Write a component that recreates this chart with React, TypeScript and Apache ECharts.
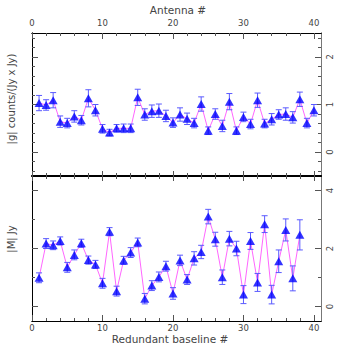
import React, { useEffect, useRef } from "react";
import * as echarts from "echarts";

const antennaIdx = [1,2,3,4,5,6,7,8,9,10,11,12,13,14,15,16,17,18,19,20,21,22,23,24,25,26,27,28,29,30,31,32,33,34,35,36,37,38,39,40];
const gainAmp = [1.03,0.99,1.09,0.64,0.61,0.75,0.67,1.13,0.88,0.49,0.41,0.50,0.50,0.50,1.15,0.79,0.86,0.87,0.76,0.62,0.79,0.70,0.61,1.01,0.45,0.80,0.55,1.06,0.45,0.74,0.59,1.09,0.60,0.69,0.79,0.80,0.73,1.11,0.61,0.88];
const gainErr = [0.16,0.11,0.16,0.12,0.10,0.12,0.10,0.18,0.12,0.09,0.07,0.08,0.09,0.09,0.17,0.12,0.13,0.14,0.12,0.10,0.14,0.12,0.10,0.15,0.08,0.11,0.12,0.17,0.08,0.10,0.10,0.15,0.09,0.12,0.10,0.13,0.12,0.15,0.10,0.12];

const baselineIdx = [1,2,3,4,5,6,7,8,9,10,11,12,13,14,15,16,17,18,19,20,21,22,23,24,25,26,27,28,29,30,31,32,33,34,35,36,37,38];
const modelAmp = [0.99,2.17,2.11,2.26,1.35,1.78,2.18,1.60,1.45,0.80,2.58,0.53,1.59,1.86,2.21,0.27,0.72,1.02,1.39,0.45,1.59,0.93,1.66,1.88,3.10,2.32,1.01,2.34,2.00,0.41,2.26,0.83,2.84,0.41,1.56,2.64,0.97,2.47];
const modelErr = [0.17,0.17,0.15,0.14,0.17,0.17,0.14,0.14,0.14,0.17,0.14,0.17,0.14,0.17,0.15,0.18,0.17,0.17,0.17,0.20,0.18,0.17,0.23,0.23,0.25,0.24,0.25,0.25,0.25,0.31,0.29,0.31,0.29,0.32,0.39,0.38,0.43,0.52];

const xMajor = [0, 10, 20, 30, 40];
const xMinor = [2,4,6,8,12,14,16,18,22,24,26,28,32,34,36,38];
const gMajor = [0, 1, 2];
const gMinor = [-0.4,-0.2,0.2,0.4,0.6,0.8,1.2,1.4,1.6,1.8,2.2,2.4];
const mMajor = [0, 2, 4];
const mMinor = [1, 3];

const FONT = "DejaVu Sans";
const TXT = "#444";

export default function App() {
  const ref = useRef<HTMLDivElement>(null);
  useEffect(() => {
    const chart = echarts.init(ref.current!, null, { renderer: "svg" });

    const xAx = (grid: number, pos: string, ticks: number[], len: number, labels: number[] | null, lineW: number, margin = 4) => ({
      type: "value", gridIndex: grid, position: pos, min: 0, max: 41,
      axisLine: { show: true, onZero: false, lineStyle: { color: "#000", width: lineW } },
      axisTick: { show: true, inside: true, length: len, customValues: ticks, lineStyle: { color: "#555", width: 1 } },
      axisLabel: labels ? { show: true, customValues: labels, color: TXT, fontSize: 8.5, fontFamily: FONT, margin } : { show: false },
      splitLine: { show: false },
    });
    const yAx = (grid: number, pos: string, min: number, max: number, ticks: number[], len: number, labels: number[] | null, lineColor: string) => ({
      type: "value", gridIndex: grid, position: pos, min, max,
      axisLine: { show: true, onZero: false, lineStyle: { color: lineColor, width: 1 } },
      axisTick: { show: true, inside: true, length: len, customValues: ticks, lineStyle: { color: "#555", width: 1 } },
      axisLabel: labels ? { show: true, customValues: labels, color: TXT, fontSize: 8.5, fontFamily: FONT, rotate: 90, margin: 4 } : { show: false },
      splitLine: { show: false },
    });

    const errSeries = (xi: number, yi: number, xs: number[], ys: number[], es: number[]) => ({
      type: "custom",
      xAxisIndex: xi, yAxisIndex: yi,
      data: xs.map((x, i) => [x, ys[i] - es[i], ys[i] + es[i]]),
      z: 3,
      renderItem: (params: any, api: any) => {
        const lo = api.coord([api.value(0), api.value(1)]);
        const hi = api.coord([api.value(0), api.value(2)]);
        const w = 3;
        const st = { stroke: "#5a5aff", lineWidth: 1 };
        return {
          type: "group",
          children: [
            { type: "line", shape: { x1: lo[0], y1: lo[1], x2: hi[0], y2: hi[1] }, style: st },
            { type: "line", shape: { x1: lo[0] - w, y1: lo[1], x2: lo[0] + w, y2: lo[1] }, style: st },
            { type: "line", shape: { x1: hi[0] - w, y1: hi[1], x2: hi[0] + w, y2: hi[1] }, style: st },
          ],
        };
      },
    });

    const lineSeries = (xi: number, yi: number, xs: number[], ys: number[]) => ({
      type: "line", xAxisIndex: xi, yAxisIndex: yi,
      data: xs.map((x, i) => [x, ys[i]]),
      showSymbol: false, symbol: "none",
      lineStyle: { color: "#ff66ff", width: 1 }, z: 2,
    });
    const markSeries = (xi: number, yi: number, xs: number[], ys: number[]) => ({
      type: "scatter", xAxisIndex: xi, yAxisIndex: yi,
      data: xs.map((x, i) => [x, ys[i]]),
      symbol: "triangle", symbolSize: [9, 8],
      itemStyle: { color: "#0000ff" }, z: 4,
    });

    chart.setOption({
      animation: false,
      backgroundColor: "#fff",
      grid: [
        { left: 32, top: 33, width: 289, height: 143 },
        { left: 32, top: 176, width: 289, height: 145 },
      ],
      xAxis: [
        xAx(0, "top", xMajor, 6, xMajor, 1, 6),
        xAx(1, "bottom", xMajor, 6, xMajor, 1, 2),
        xAx(0, "top", xMinor, 3, null, 1),
        xAx(0, "bottom", xMajor, 5, null, 1.5),
        xAx(0, "bottom", xMinor, 3, null, 1.5),
        xAx(1, "top", xMajor, 5, null, 1.5),
        xAx(1, "top", xMinor, 3, null, 1.5),
        xAx(1, "bottom", xMinor, 3, null, 1),
      ],
      yAxis: [
        yAx(0, "right", -0.5, 2.5, gMajor, 6, gMajor, "#777"),
        yAx(1, "right", -0.5, 4.5, mMajor, 6, mMajor, "#777"),
        yAx(0, "right", -0.5, 2.5, gMinor, 3, null, "#777"),
        yAx(0, "left", -0.5, 2.5, gMajor, 6, null, "#000"),
        yAx(0, "left", -0.5, 2.5, gMinor, 3, null, "#000"),
        yAx(1, "right", -0.5, 4.5, mMinor, 3, null, "#777"),
        yAx(1, "left", -0.5, 4.5, mMajor, 6, null, "#000"),
        yAx(1, "left", -0.5, 4.5, mMinor, 3, null, "#000"),
      ],
      series: [
        lineSeries(0, 0, antennaIdx, gainAmp),
        errSeries(0, 0, antennaIdx, gainAmp, gainErr),
        markSeries(0, 0, antennaIdx, gainAmp),
        lineSeries(1, 1, baselineIdx, modelAmp),
        errSeries(1, 1, baselineIdx, modelAmp, modelErr),
        markSeries(1, 1, baselineIdx, modelAmp),
      ],
      graphic: [
        { type: "text", x: 178, y: 10, style: { text: "Antenna #", fill: TXT, font: `10.5px ${FONT}`, textAlign: "center", textVerticalAlign: "middle" } },
        { type: "text", x: 170, y: 339, style: { text: "Redundant baseline #", fill: TXT, font: `10.5px ${FONT}`, textAlign: "center", textVerticalAlign: "middle" } },
        { type: "text", x: 11, y: 99, rotation: Math.PI / 2, style: { text: "|g| counts/(Jy x Jy)", fill: TXT, font: `10px ${FONT}`, textAlign: "center", textVerticalAlign: "middle" } },
        { type: "text", x: 11, y: 239, rotation: Math.PI / 2, style: { text: "|M| Jy", fill: TXT, font: `10px ${FONT}`, textAlign: "center", textVerticalAlign: "middle" } },
      ],
    });
    return () => chart.dispose();
  }, []);
  return <div ref={ref} style={{ width: 337, height: 346, position: "absolute", left: 0, top: 0 }} />;
}
